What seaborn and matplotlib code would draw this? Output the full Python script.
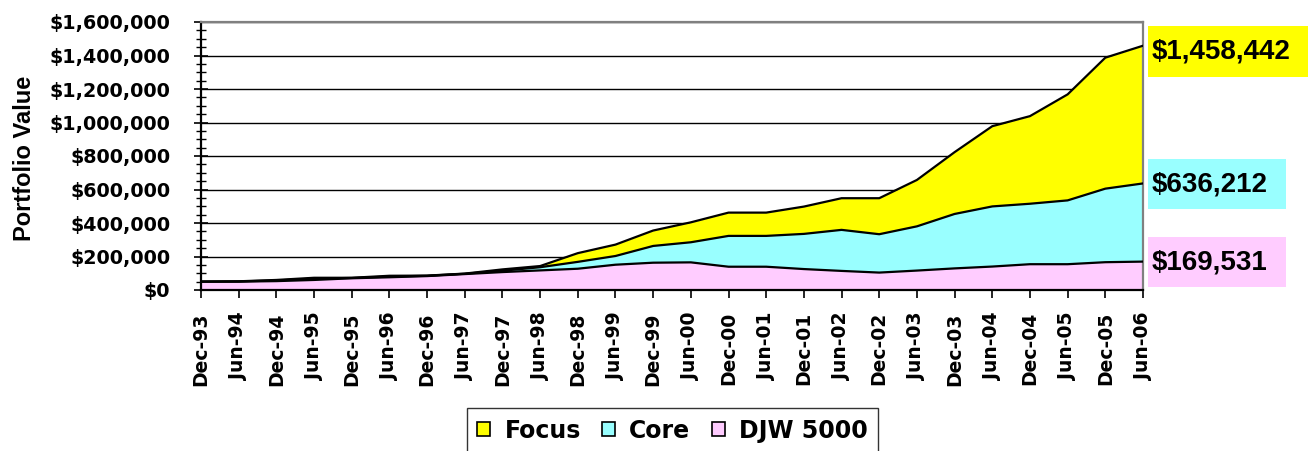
import pandas as pd
import numpy as np
import matplotlib
matplotlib.use("Agg")
import matplotlib.pyplot as plt
from matplotlib.patches import Patch, Rectangle
from matplotlib.ticker import MultipleLocator, FuncFormatter
import seaborn as sns

dates = ["Dec-93", "Jun-94", "Dec-94", "Jun-95", "Dec-95", "Jun-96", "Dec-96",
         "Jun-97", "Dec-97", "Jun-98", "Dec-98", "Jun-99", "Dec-99", "Jun-00",
         "Dec-00", "Jun-01", "Dec-01", "Jun-02", "Dec-02", "Jun-03", "Dec-03",
         "Jun-04", "Dec-04", "Jun-05", "Dec-05", "Jun-06"]

focus = [50000, 52000, 60000, 73000, 73000, 85000, 86000, 98000, 123000, 143000,
         220000, 271000, 355000, 404000, 462000, 462000, 498000, 548000, 548000,
         657000, 823000, 978000, 1038000, 1168000, 1387000, 1458442]
core = [50000, 51000, 57000, 68000, 72000, 80000, 85000, 97000, 115000, 136000,
        168000, 203000, 263000, 285000, 323000, 323000, 335000, 359000, 333000,
        380000, 454000, 499000, 515000, 535000, 605000, 636212]
djw = [50000, 50000, 53000, 60000, 70000, 76000, 83000, 95000, 107000, 117000,
       127000, 151000, 163000, 165000, 139000, 139000, 125000, 114000, 104000,
       116000, 129000, 140000, 154000, 154000, 166000, 169531]

series = ["Focus", "Core", "DJW 5000"]
colors = {"Focus": "#ffff00", "Core": "#99ffff", "DJW 5000": "#ffccff"}

sns.set_theme(style="white")
plt.rcParams['font.family'] = ['DejaVu Sans']
plt.rcParams['font.weight'] = 'bold'
plt.rcParams['text.color'] = 'black'
plt.rcParams['xtick.color'] = 'black'
plt.rcParams['ytick.color'] = 'black'

df = pd.DataFrame({"pos": np.arange(len(dates)), "date": dates,
                   "Focus": focus, "Core": core, "DJW 5000": djw})
long = df.melt(id_vars=["pos", "date"], value_vars=series,
               var_name="series", value_name="value")

fig = plt.figure(figsize=(13.08, 4.51), dpi=100)
ax = fig.add_axes([201/1308, 1-290/451, 942/1308, 268/451])

# filled areas, back to front
for s in series:
    ax.fill_between(df["pos"], 0, df[s], color=colors[s], zorder=2, linewidth=0)

sns.lineplot(data=long, x="pos", y="value", hue="series", hue_order=series,
             palette=["black"]*3, linewidth=1.6, legend=False, ax=ax, zorder=3,
             sort=False)

ax.set_xlim(0, len(dates)-1)
ax.set_ylim(0, 1600000)
ax.set_xticks(df["pos"])
ax.set_xticklabels(dates, rotation=90, fontsize=13.5, fontweight='bold')
ax.yaxis.set_major_locator(MultipleLocator(200000))
ax.yaxis.set_minor_locator(MultipleLocator(50000))
ax.yaxis.set_major_formatter(FuncFormatter(lambda v, p: f"${v:,.0f}"))
ax.tick_params(axis='y', which='major', direction='inout', length=10, width=1.2,
               labelsize=13.8, pad=17, colors='black', left=True)
ax.tick_params(axis='y', which='minor', direction='inout', length=7, width=1.0,
               colors='black', left=True)
ax.tick_params(axis='x', direction='out', length=6, width=1.2, colors='black',
               pad=10, bottom=True)
for lab in ax.get_yticklabels() + ax.get_xticklabels():
    lab.set_fontweight('bold')
ax.grid(axis='y', color='black', linewidth=1.0, zorder=1)
ax.set_axisbelow(True)
ax.set_xlabel("")
ax.set_ylabel("")
fig.text(25/1308, 1-158/451, "Portfolio Value", rotation=90, ha='center',
         va='center', fontsize=17, fontweight='bold', color='black',
         family=['Liberation Sans', 'DejaVu Sans'])
for side in ["left", "bottom"]:
    ax.spines[side].set_color("black")
    ax.spines[side].set_linewidth(1.6)
for side in ["top", "right"]:
    ax.spines[side].set_color("#808080")
    ax.spines[side].set_linewidth(1.6)
    ax.spines[side].set_visible(True)

# end value tags on the right
tag_boxes = {"Focus": (26, 77, 1308), "Core": (159, 209, 1286), "DJW 5000": (237, 287, 1286)}
for s in series:
    top, bot, right = tag_boxes[s]
    fig.patches.append(Rectangle((1148/1308, 1-bot/451), (right-1148)/1308,
                                 (bot-top)/451, transform=fig.transFigure,
                                 facecolor=colors[s], edgecolor='none'))
    fig.text(1152/1308, 1-(top+bot)/2/451, f"${df[s].iloc[-1]:,.0f}",
             fontsize=20, fontweight='bold', va='center', ha='left',
             color='black', family=['Liberation Sans', 'DejaVu Sans'])

handles = [Patch(facecolor=colors[s], edgecolor='black', linewidth=1.2, label=s)
           for s in series]
leg = fig.legend(handles=handles, loc='upper center', ncol=3,
                 bbox_to_anchor=(672.5/1308, 1-408/451), fontsize=17,
                 frameon=True, fancybox=False, handlelength=0.55,
                 handleheight=0.55, handletextpad=0.6, columnspacing=0.9,
                 borderpad=0.45, borderaxespad=0)
leg.get_frame().set_edgecolor('black')
leg.get_frame().set_linewidth(1.0)
for t in leg.get_texts():
    t.set_fontweight('bold')
    t.set_color('black')

fig.savefig("out.png", dpi=100)
